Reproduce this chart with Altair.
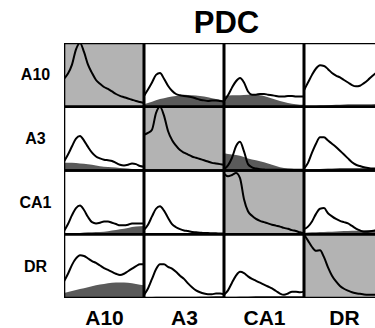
import altair as alt
import pandas as pd

categories = ["A10", "A3", "CA1", "DR"]
title_text = "PDC"

t_line = [0.0, 0.05, 0.1, 0.15, 0.2, 0.25, 0.3, 0.35, 0.4, 0.45, 0.5,
          0.55, 0.6, 0.65, 0.7, 0.75, 0.8, 0.85, 0.9, 0.95, 1.0]
t_area = [0.0, 0.1, 0.2, 0.3, 0.4, 0.5, 0.6, 0.7, 0.8, 0.9, 1.0]

# density curves, row = first name, column = second name (fraction of panel height)
line_A10_A10 = [0.44, 0.52, 0.66, 0.90, 1.00, 0.86, 0.66, 0.53, 0.42, 0.36, 0.31,
                0.28, 0.24, 0.20, 0.17, 0.15, 0.13, 0.11, 0.09, 0.075, 0.06]
line_A10_A3 = [0.17, 0.27, 0.38, 0.50, 0.53, 0.44, 0.33, 0.25, 0.20, 0.18, 0.17,
               0.16, 0.15, 0.13, 0.11, 0.10, 0.09, 0.10, 0.10, 0.09, 0.08]
line_A10_CA1 = [0.09, 0.18, 0.30, 0.40, 0.45, 0.38, 0.24, 0.19, 0.19, 0.20, 0.20,
                0.19, 0.18, 0.17, 0.16, 0.16, 0.17, 0.17, 0.16, 0.16, 0.16]
line_A10_DR = [0.26, 0.38, 0.50, 0.60, 0.65, 0.64, 0.59, 0.53, 0.49, 0.46, 0.42,
               0.38, 0.34, 0.32, 0.33, 0.37, 0.42, 0.48, 0.53, 0.57, 0.60]
line_A3_A10 = [0.14, 0.25, 0.38, 0.50, 0.54, 0.47, 0.37, 0.28, 0.22, 0.19, 0.17,
               0.16, 0.15, 0.12, 0.09, 0.08, 0.09, 0.11, 0.10, 0.07, 0.06]
line_A3_A3 = [0.56, 0.59, 0.64, 0.90, 1.00, 0.86, 0.62, 0.48, 0.39, 0.32, 0.28,
              0.25, 0.22, 0.20, 0.18, 0.16, 0.14, 0.12, 0.11, 0.10, 0.09]
line_A3_CA1 = [0.02, 0.08, 0.20, 0.38, 0.45, 0.30, 0.10, 0.05, 0.03, 0.02, 0.015,
               0.01, 0.01, 0.01, 0.01, 0.01, 0.01, 0.01, 0.01, 0.01, 0.01]
line_A3_DR = [0.03, 0.12, 0.28, 0.42, 0.52, 0.52, 0.47, 0.42, 0.37, 0.31, 0.25,
              0.19, 0.13, 0.09, 0.07, 0.05, 0.04, 0.03, 0.03, 0.03, 0.03]
line_CA1_A10 = [0.05, 0.16, 0.30, 0.41, 0.45, 0.38, 0.27, 0.19, 0.17, 0.18, 0.20,
                0.20, 0.18, 0.16, 0.14, 0.14, 0.15, 0.17, 0.17, 0.17, 0.17]
line_CA1_A3 = [0.07, 0.15, 0.28, 0.40, 0.44, 0.37, 0.26, 0.16, 0.11, 0.08, 0.06,
               0.05, 0.035, 0.03, 0.025, 0.02, 0.02, 0.015, 0.015, 0.01, 0.01]
line_CA1_CA1 = [0.95, 0.91, 0.93, 0.96, 0.88, 0.55, 0.36, 0.29, 0.24, 0.21, 0.19,
                0.17, 0.15, 0.135, 0.12, 0.10, 0.085, 0.065, 0.05, 0.03, 0.015]
line_CA1_DR = [0.08, 0.12, 0.20, 0.32, 0.40, 0.41, 0.33, 0.28, 0.24, 0.21, 0.19,
               0.17, 0.13, 0.09, 0.06, 0.04, 0.04, 0.05, 0.06, 0.07, 0.08]
line_DR_A10 = [0.26, 0.38, 0.52, 0.62, 0.67, 0.66, 0.62, 0.58, 0.55, 0.51, 0.47,
               0.44, 0.41, 0.38, 0.36, 0.38, 0.42, 0.46, 0.50, 0.53, 0.53]
line_DR_A3 = [0.05, 0.15, 0.30, 0.45, 0.53, 0.53, 0.49, 0.46, 0.41, 0.35, 0.30,
              0.23, 0.17, 0.12, 0.09, 0.07, 0.06, 0.06, 0.07, 0.07, 0.06]
line_DR_CA1 = [0.05, 0.12, 0.24, 0.35, 0.41, 0.39, 0.34, 0.30, 0.27, 0.24, 0.21,
               0.18, 0.15, 0.11, 0.07, 0.05, 0.07, 0.10, 0.10, 0.09, 0.10]
line_DR_DR = [1.00, 0.90, 0.80, 0.74, 0.75, 0.64, 0.48, 0.35, 0.26, 0.19, 0.145,
              0.115, 0.09, 0.075, 0.065, 0.055, 0.05, 0.05, 0.05, 0.05, 0.05]

# shaded distributions in the off-diagonal panels
area_A10_A3 = [0.04, 0.08, 0.12, 0.15, 0.17, 0.19, 0.18, 0.17, 0.15, 0.12, 0.10]
area_A10_CA1 = [0.17, 0.18, 0.18, 0.19, 0.19, 0.17, 0.13, 0.09, 0.06, 0.04, 0.03]
area_A10_DR = [0.01, 0.01, 0.02, 0.025, 0.03, 0.035, 0.04, 0.04, 0.04, 0.045, 0.045]
area_A3_A10 = [0.12, 0.12, 0.11, 0.10, 0.08, 0.06, 0.05, 0.04, 0.03, 0.02, 0.02]
area_A3_CA1 = [0.27, 0.25, 0.23, 0.19, 0.16, 0.13, 0.09, 0.05, 0.03, 0.02, 0.01]
area_A3_DR = [0.01, 0.02, 0.025, 0.03, 0.035, 0.04, 0.04, 0.04, 0.04, 0.04, 0.04]
area_CA1_A10 = [0.01, 0.01, 0.02, 0.03, 0.035, 0.04, 0.06, 0.08, 0.10, 0.12, 0.13]
area_CA1_A3 = [0.01, 0.01, 0.01, 0.01, 0.01, 0.01, 0.01, 0.01, 0.01, 0.01, 0.01]
area_CA1_DR = [0.02, 0.03, 0.035, 0.04, 0.045, 0.05, 0.055, 0.06, 0.065, 0.07, 0.07]
area_DR_A10 = [0.08, 0.11, 0.14, 0.17, 0.20, 0.22, 0.24, 0.245, 0.24, 0.22, 0.20]
area_DR_A3 = [0.01, 0.015, 0.02, 0.02, 0.02, 0.02, 0.02, 0.025, 0.025, 0.03, 0.03]
area_DR_CA1 = [0.02, 0.02, 0.025, 0.025, 0.03, 0.03, 0.03, 0.03, 0.03, 0.03, 0.03]

lines = {
    ("A10", "A10"): line_A10_A10, ("A10", "A3"): line_A10_A3,
    ("A10", "CA1"): line_A10_CA1, ("A10", "DR"): line_A10_DR,
    ("A3", "A10"): line_A3_A10, ("A3", "A3"): line_A3_A3,
    ("A3", "CA1"): line_A3_CA1, ("A3", "DR"): line_A3_DR,
    ("CA1", "A10"): line_CA1_A10, ("CA1", "A3"): line_CA1_A3,
    ("CA1", "CA1"): line_CA1_CA1, ("CA1", "DR"): line_CA1_DR,
    ("DR", "A10"): line_DR_A10, ("DR", "A3"): line_DR_A3,
    ("DR", "CA1"): line_DR_CA1, ("DR", "DR"): line_DR_DR,
}
areas = {
    ("A10", "A3"): area_A10_A3, ("A10", "CA1"): area_A10_CA1, ("A10", "DR"): area_A10_DR,
    ("A3", "A10"): area_A3_A10, ("A3", "CA1"): area_A3_CA1, ("A3", "DR"): area_A3_DR,
    ("CA1", "A10"): area_CA1_A10, ("CA1", "A3"): area_CA1_A3, ("CA1", "DR"): area_CA1_DR,
    ("DR", "A10"): area_DR_A10, ("DR", "A3"): area_DR_A3, ("DR", "CA1"): area_DR_CA1,
}

n = len(categories)
line_rows, area_rows, cell_rows = [], [], []
for r, rc in enumerate(categories):
    base = n - 1 - r
    for c, cc in enumerate(categories):
        pid = rc + "|" + cc
        cell_rows.append({"panel": pid, "x": c, "x2": c + 1, "y": base, "y2": base + 1,
                          "kind": "diag" if r == c else "off"})
        for t, v in zip(t_line, lines[(rc, cc)]):
            line_rows.append({"panel": pid, "x": c + t, "y": base + v})
        if (rc, cc) in areas:
            for t, v in zip(t_area, areas[(rc, cc)]):
                area_rows.append({"panel": pid, "x": c + t, "y": base + v, "y2": base})

df_line = pd.DataFrame(line_rows)
df_area = pd.DataFrame(area_rows)
df_cell = pd.DataFrame(cell_rows)

W, H = 311, 255
xmax = W / 80.0
FONT = "Liberation Sans"

col_expr = "[" + ",".join("'%s'" % s for s in categories) + "][floor(datum.value)]"
row_expr = "[" + ",".join("'%s'" % s for s in reversed(categories)) + "][floor(datum.value)]"
ticks = [i + 0.5 for i in range(n)]

x_enc = alt.X("x:Q", scale=alt.Scale(domain=[0, xmax], nice=False, zero=False),
              axis=alt.Axis(values=ticks, labelExpr=col_expr, title=None, ticks=False,
                            tickSize=0, domain=False, grid=False, labelFont=FONT,
                            labelFontSize=21, labelFontWeight="bold", labelColor="black",
                            labelPadding=26, labelBaseline="alphabetic", labelFlush=False,
                            labelOverlap=False))
y_enc = alt.Y("y:Q", scale=alt.Scale(domain=[0, n], nice=False, zero=False),
              axis=alt.Axis(values=ticks, labelExpr=row_expr, title=None, ticks=False,
                            tickSize=0, domain=False, grid=False, labelFont=FONT,
                            labelFontSize=16, labelFontWeight="bold", labelColor="black",
                            labelPadding=29, labelAlign="center", labelBaseline="middle",
                            labelFlush=False, labelOverlap=False))

bg = alt.Chart(df_cell).mark_rect(clip=True, strokeWidth=0).encode(
    x=x_enc, x2="x2:Q", y=y_enc, y2="y2:Q",
    fill=alt.Fill("kind:N", scale=alt.Scale(domain=["diag", "off"],
                                            range=["#b3b3b3", "#ffffff"]), legend=None),
)
area = alt.Chart(df_area).mark_area(clip=True, color="#5a5a5a", interpolate="monotone").encode(
    x=x_enc, y=y_enc, y2="y2:Q", detail="panel:N",
)
line = alt.Chart(df_line).mark_line(clip=True, color="black", strokeWidth=2,
                                    interpolate="monotone").encode(
    x=x_enc, y=y_enc, detail="panel:N",
)
border = alt.Chart(df_cell).mark_rect(clip=True, fillOpacity=0, stroke="black",
                                      strokeWidth=2.6).encode(
    x=x_enc, x2="x2:Q", y=y_enc, y2="y2:Q",
)

chart = alt.layer(bg, area, line, border).properties(
    width=W, height=H,
    padding={"left": 64, "top": 43, "right": 0, "bottom": 30},
    autosize=alt.AutoSizeParams(type="none"),
    title=alt.Title(title_text, font=FONT, fontSize=31, fontWeight="bold", color="black",
                    anchor="middle", dx=7, dy=32, offset=11, baseline="alphabetic"),
    background="white",
).configure_view(strokeWidth=0)

chart.save("out.html", embed_options={"renderer": "svg", "actions": False})
